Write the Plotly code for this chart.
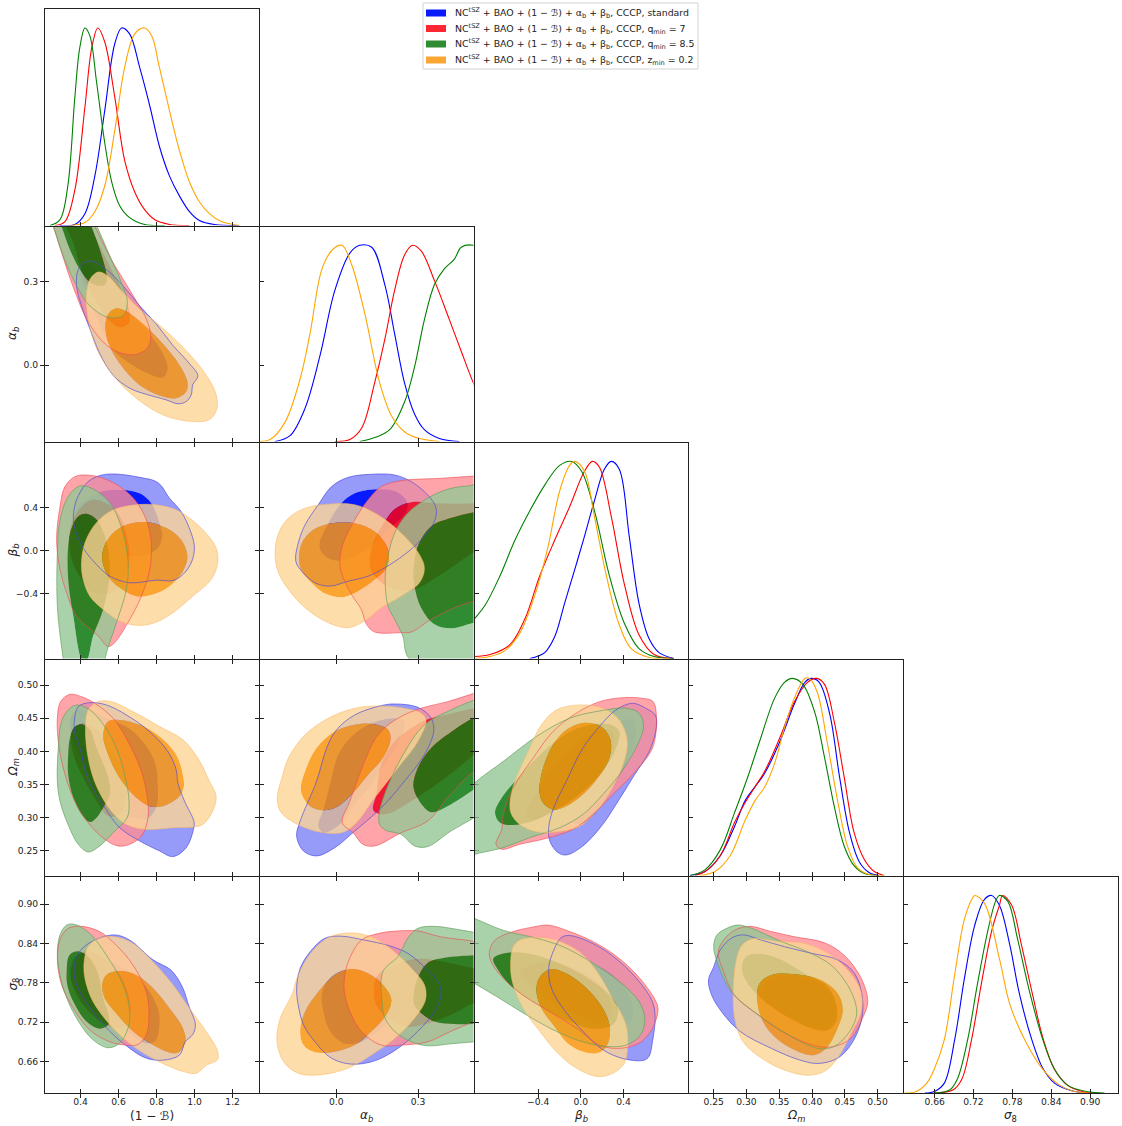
import plotly.graph_objects as go

# ---------- axis data ----------
COL_RANGES = [[0.213, 1.336], [-0.281, 0.503], [-0.995, 0.998], [0.2116, 0.538], [0.612, 0.943]]
ROW_RANGES = [None, [-0.275, 0.5], [-1.0, 1.003], [0.213, 0.5385], [0.612, 0.942]]
TICK_0 = [0.4, 0.6, 0.8, 1.0, 1.2]; TEXT_0 = ["0.4", "0.6", "0.8", "1.0", "1.2"]
TICK_1 = [0.0, 0.3]; TEXT_1 = ["0.0", "0.3"]
TICK_2 = [-0.4, 0.0, 0.4]; TEXT_2 = ["\u22120.4", "0.0", "0.4"]
TICK_3 = [0.25, 0.30, 0.35, 0.40, 0.45, 0.50]; TEXT_3 = ["0.25", "0.30", "0.35", "0.40", "0.45", "0.50"]
TICK_4 = [0.66, 0.72, 0.78, 0.84, 0.90]; TEXT_4 = ["0.66", "0.72", "0.78", "0.84", "0.90"]
X_LABELS = ["(1 \u2212 \u212c)", "<i>\u03b1<sub>b</sub></i>", "<i>\u03b2<sub>b</sub></i>", "<i>\u03a9<sub>m</sub></i>", "<i>\u03c3</i><sub>8</sub>"]
SERIES_NAMES = [
    "NC<sup>tSZ</sup> + BAO + (1 \u2212 \u212c) + \u03b1<sub>b</sub> + \u03b2<sub>b</sub>, CCCP, standard",
    "NC<sup>tSZ</sup> + BAO + (1 \u2212 \u212c) + \u03b1<sub>b</sub> + \u03b2<sub>b</sub>, CCCP, q<sub>min</sub> = 7",
    "NC<sup>tSZ</sup> + BAO + (1 \u2212 \u212c) + \u03b1<sub>b</sub> + \u03b2<sub>b</sub>, CCCP, q<sub>min</sub> = 8.5",
    "NC<sup>tSZ</sup> + BAO + (1 \u2212 \u212c) + \u03b1<sub>b</sub> + \u03b2<sub>b</sub>, CCCP, z<sub>min</sub> = 0.2",
]

# ---------- 1-D marginals ----------
D0_blue_x = [.292,.37,.423,.475,.527,.58,.616,.658,.711,.763,.815,.868,.92,.973,1.025,1.104,1.235]
D0_blue_y = [0,.005,.06,.25,.58,.92,1,.97,.8,.61,.4,.25,.15,.07,.025,.005,0]
D0_red_x = [.265,.318,.37,.423,.459,.491,.527,.58,.632,.685,.737,.789,.868,.973]
D0_red_y = [0,.02,.18,.6,.9,1,.93,.65,.33,.17,.08,.03,.005,0]
D0_green_x = [.239,.292,.333,.37,.396,.423,.449,.485,.527,.564,.606,.658,.737,.842]
D0_green_y = [0,.03,.2,.65,.9,1,.96,.72,.42,.22,.1,.04,.005,0]
D0_orange_x = [.344,.423,.475,.527,.58,.632,.685,.737,.774,.815,.868,.92,.973,1.025,1.078,1.14,1.235]
D0_orange_y = [0,.015,.07,.2,.48,.8,.97,1,.96,.8,.58,.38,.22,.12,.06,.02,0]

D1_blue_x = [-.224,-.169,-.114,-.059,-.005,.05,.086,.13,.178,.214,.25,.287,.323,.378,.451]
D1_blue_y = [0,.03,.17,.44,.77,.96,1,.99,.8,.55,.3,.14,.06,.015,0]
D1_red_x = [-.005,.05,.094,.141,.178,.214,.25,.28,.312,.36,.415,.458,.502,.56]
D1_red_y = [0,.01,.07,.3,.52,.77,.95,1,.97,.82,.62,.46,.3,.12]
D1_green_x = [.086,.141,.196,.25,.287,.323,.36,.396,.433,.458,.502,.56]
D1_green_y = [0,.02,.06,.2,.38,.62,.8,.88,.93,.99,1,.95]
D1_orange_x = [-.282,-.242,-.187,-.132,-.096,-.052,-.012,.021,.057,.105,.159,.203,.25,.305,.378]
D1_orange_y = [0,.01,.1,.32,.55,.88,.98,1,.9,.65,.3,.13,.05,.015,0]

D2_blue_x = [-.477,-.338,-.245,-.152,-.058,.034,.127,.22,.285,.36,.453,.544,.639,.732,.871]
D2_blue_y = [0,.03,.11,.28,.45,.62,.8,.96,1,.96,.62,.28,.1,.03,0]
D2_red_x = [-.998,-.849,-.663,-.524,-.384,-.245,-.105,.034,.109,.174,.285,.406,.544,.685,.871]
D2_red_y = [.01,.02,.07,.2,.42,.6,.77,.95,1,.97,.72,.38,.12,.02,0]
D2_green_x = [-1.128,-.998,-.896,-.756,-.617,-.477,-.338,-.198,-.086,.007,.127,.267,.406,.544,.685,.871]
D2_green_y = [.12,.2,.27,.42,.6,.75,.88,.98,1,.95,.75,.42,.18,.05,.01,0]
D2_orange_x = [-.998,-.849,-.71,-.57,-.431,-.31,-.198,-.105,-.058,.034,.127,.239,.36,.471,.639,.825]
D2_orange_y = [0,.01,.04,.13,.32,.56,.85,.98,1,.95,.72,.42,.17,.05,.005,0]

D3_blue_x = [.214,.237,.26,.282,.298,.313,.328,.351,.373,.389,.399,.411,.427,.442,.457,.472,.487,.502]
D3_blue_y = [0,.02,.1,.25,.38,.45,.52,.68,.87,.98,1,.98,.82,.5,.22,.07,.015,0]
D3_red_x = [.222,.237,.26,.282,.298,.313,.328,.351,.373,.393,.407,.419,.434,.449,.464,.48,.495,.51]
D3_red_y = [0,.02,.1,.27,.37,.45,.53,.7,.88,.98,1,.97,.78,.5,.22,.08,.02,0]
D3_green_x = [.214,.237,.26,.282,.302,.32,.343,.358,.37,.386,.404,.419,.434,.449,.464,.48,.502]
D3_green_y = [0,.03,.13,.32,.5,.68,.9,.98,1,.97,.83,.6,.35,.15,.05,.01,0]
D3_orange_x = [.229,.252,.275,.298,.313,.328,.343,.358,.373,.389,.396,.408,.423,.439,.454,.469,.487,.51]
D3_orange_y = [0,.02,.1,.28,.38,.45,.57,.75,.9,1,1,.93,.68,.38,.15,.04,.005,0]

D4_blue_x = [.645,.66,.675,.691,.706,.722,.737,.748,.76,.776,.791,.81,.827,.845,.873,.899]
D4_blue_y = [0,.008,.05,.27,.58,.85,.98,1,.95,.75,.5,.27,.125,.05,.01,0]
D4_red_x = [.66,.688,.702,.717,.732,.748,.76,.765,.779,.794,.811,.827,.845,.865,.891,.914]
D4_red_y = [0,.015,.07,.27,.55,.82,.95,1,.95,.75,.5,.28,.12,.04,.005,0]
D4_green_x = [.66,.683,.695,.711,.726,.742,.754,.76,.773,.788,.806,.827,.845,.865,.884,.907,.922]
D4_green_y = [0,.015,.07,.27,.55,.82,.97,1,.97,.78,.52,.27,.12,.04,.015,.002,0]
D4_orange_x = [.614,.632,.648,.66,.675,.691,.706,.719,.722,.737,.76,.776,.799,.827,.853,.873,.899]
D4_orange_y = [0,.008,.05,.125,.27,.6,.88,.99,1,.96,.68,.45,.27,.12,.04,.01,0]

# ---------- 2-D contours: alpha_b vs (1-B) ----------
A_blue_o_x = [.458,.536,.624,.711,.798,.886,.973,1.017,.99,.982,.956,.912,.851,.746,.659,.571,.501,.449,.405,.379,.388,.423]
A_blue_o_y = [.375,.345,.286,.214,.149,.071,.006,-.038,-.071,-.107,-.131,-.139,-.125,-.105,-.083,-.036,.042,.131,.214,.286,.345,.371]
A_blue_i_x = [.397,.449,.51,.571,.659,.763,.833,.859,.833,.763,.659,.571,.501,.431]
A_blue_i_y = [.333,.238,.131,.054,.006,-.033,-.045,-.012,.042,.113,.19,.262,.333,.369]
A_red_o_x = [.257,.335,.379,.431,.519,.606,.693,.755,.769,.746,.693,.624,.562,.475,.414,.222]
A_red_o_y = [.5,.333,.25,.167,.083,.045,.039,.065,.107,.167,.232,.31,.381,.5,.571,.571]
A_red_i_x = [.362,.397,.466,.545,.606,.65,.658,.624,.554,.484,.414,.309]
A_red_i_y = [.44,.357,.25,.167,.137,.149,.184,.262,.357,.452,.536,.536]
A_green_o_x = [.257,.309,.379,.449,.545,.624,.646,.615,.562,.487,.431,.213]
A_green_o_y = [.5,.393,.286,.214,.173,.179,.226,.298,.381,.5,.583,.583]
A_green_i_x = [.3,.344,.397,.449,.501,.533,.536,.501,.458,.414,.257]
A_green_i_y = [.5,.417,.345,.3,.286,.294,.327,.417,.5,.571,.571]
A_orange_o_x = [.493,.449,.431,.44,.484,.571,.693,.833,.973,1.078,1.118,1.108,1.043,.938,.816,.711,.615,.545]
A_orange_o_y = [.336,.309,.25,.167,.06,-.036,-.119,-.179,-.202,-.196,-.155,-.095,-.018,.065,.143,.202,.268,.321]
A_orange_i_x = [.589,.545,.531,.545,.606,.711,.833,.903,.956,.962,.921,.833,.728,.65]
A_orange_i_y = [.205,.184,.143,.083,.006,-.071,-.113,-.119,-.095,-.06,0,.077,.149,.19]

# ---------- beta_b vs (1-B) ----------
B_blue_o_x = [.362,.379,.431,.493,.571,.711,.807,.868,.929,.982,.999,.982,.938,.886,.798,.659,.554,.484,.414,.37]
B_blue_o_y = [.317,.471,.625,.692,.711,.68,.631,.486,.363,.163,.025,-.114,-.222,-.277,-.274,-.298,-.237,-.129,.025,.209]
B_blue_i_x = [.37,.414,.51,.624,.711,.772,.816,.83,.807,.746,.641,.519,.414,.37]
B_blue_i_y = [.363,.455,.548,.563,.532,.44,.255,.132,.025,-.037,-.052,-.022,.04,.194]
B_red_o_x = [.274,.292,.318,.37,.431,.519,.606,.685,.746,.772,.764,.72,.659,.58,.545,.493,.379,.327,.292]
B_red_o_y = [.102,.409,.594,.686,.702,.671,.594,.471,.286,.071,-.175,-.422,-.637,-.852,-.889,-.791,-.606,-.391,-.175]
B_red_i_x = [.341,.379,.466,.562,.615,.65,.655,.624,.562,.466,.405,.353]
B_red_i_y = [.163,.348,.471,.409,.286,.071,-.114,-.268,-.391,-.391,-.268,-.083]
B_green_o_x = [.278,.292,.335,.397,.475,.562,.624,.65,.641,.589,.528,.519,.318,.309,.295,.278]
B_green_o_y = [-.022,.286,.502,.6,.563,.425,.163,-.114,-.36,-.668,-1.006,-1.19,-1.19,-1.006,-.822,-.514]
B_green_i_x = [.335,.353,.388,.431,.484,.528,.55,.55,.519,.466,.431,.41,.362,.335]
B_green_i_y = [.04,.209,.317,.342,.286,.132,-.052,-.268,-.545,-.791,-1.02,-1.02,-.606,-.268]
B_orange_o_x = [.405,.423,.475,.554,.659,.798,.921,1.043,1.113,1.121,1.087,.99,.886,.781,.693,.606,.519,.449,.414]
B_orange_o_y = [-.114,.071,.24,.363,.418,.425,.363,.194,.025,-.114,-.268,-.422,-.575,-.674,-.692,-.652,-.545,-.422,-.268]
B_orange_i_x = [.514,.528,.58,.659,.746,.851,.929,.962,.938,.868,.781,.693,.606,.545]
B_orange_i_y = [-.083,.055,.178,.249,.265,.209,.102,-.052,-.191,-.329,-.406,-.422,-.345,-.237]

# ---------- beta_b vs alpha_b ----------
C_blue_o_x = [-.148,-.139,-.114,-.066,-.017,.044,.129,.214,.275,.335,.366,.36,.311,.25,.177,.117,.044,-.023,-.078,-.126]
C_blue_o_y = [-.098,.071,.24,.425,.594,.68,.708,.702,.64,.517,.394,.271,.102,-.037,-.16,-.237,-.283,-.329,-.298,-.191]
C_blue_i_x = [-.062,-.029,.019,.068,.153,.22,.262,.25,.19,.129,.056,-.005,-.047]
C_blue_i_y = [.055,.255,.44,.532,.569,.548,.44,.332,.194,.04,-.068,-.092,-.037]
C_red_o_x = [.013,.026,.068,.117,.165,.238,.384,.505,.578,.578,.505,.433,.348,.275,.238,.141,.111,.092,.056,.019]
C_red_o_y = [-.083,.071,.286,.471,.594,.649,.671,.692,.702,-.422,-.468,-.529,-.637,-.754,-.76,-.754,-.683,-.545,-.406,-.206]
C_red_i_x = [.123,.135,.171,.214,.275,.372,.505,.578,.578,.481,.384,.287,.214,.159,.129]
C_red_i_y = [-.083,.071,.24,.385,.449,.44,.44,.455,.132,-.052,-.222,-.36,-.36,-.283,-.191]
C_green_o_x = [.18,.183,.214,.262,.335,.408,.481,.578,.578,.269,.244,.214,.19]
C_green_o_y = [-.329,-.145,.163,.348,.486,.569,.6,.609,-1.252,-1.006,-.791,-.637,-.514]
C_green_i_x = [.284,.299,.348,.42,.505,.578,.578,.505,.42,.36,.311,.287]
C_green_i_y = [-.175,.04,.225,.302,.357,.378,-.637,-.668,-.72,-.683,-.529,-.329]
C_orange_o_x = [-.224,-.211,-.175,-.114,-.029,.068,.153,.238,.305,.323,.305,.238,.165,.104,.044,-.029,-.114,-.175,-.211]
C_orange_o_y = [-.037,.163,.302,.394,.431,.425,.332,.163,-.037,-.16,-.298,-.422,-.529,-.652,-.714,-.668,-.529,-.36,-.206]
C_orange_i_x = [-.136,-.126,-.084,-.017,.068,.141,.19,.187,.141,.08,.026,-.041,-.096,-.126]
C_orange_i_y = [-.083,.071,.194,.255,.255,.178,.009,-.145,-.268,-.375,-.431,-.397,-.283,-.191]

# ---------- Omega_m vs (1-B) ----------
D_blue_o_x = [.367,.388,.449,.536,.641,.763,.859,.903,.912,.947,.996,.996,.956,.886,.816,.711,.606,.528,.44,.397,.37]
D_blue_o_y = [.445,.4675,.4735,.47,.455,.43,.4,.3725,.3525,.325,.295,.285,.255,.2415,.25,.265,.285,.315,.3575,.405,.4275]
D_blue_i_x = [.344,.37,.44,.536,.641,.728,.79,.807,.798,.746,.676,.589,.501,.431,.37]
D_blue_i_y = [.445,.46,.4625,.45,.4375,.415,.385,.345,.315,.2975,.3,.305,.33,.37,.41]
D_red_o_x = [.278,.295,.344,.405,.475,.571,.659,.72,.749,.755,.72,.659,.597,.528,.44,.362,.309,.283]
D_red_o_y = [.45,.475,.486,.4825,.4725,.45,.41,.37,.335,.3,.2725,.26,.2575,.2675,.2925,.33,.375,.415]
D_red_i_x = [.353,.414,.484,.554,.624,.641,.606,.545,.484,.414,.362]
D_red_i_y = [.43,.4425,.4325,.405,.37,.335,.305,.3025,.325,.36,.395]
D_green_o_x = [.278,.283,.3,.335,.379,.449,.528,.589,.632,.655,.645,.58,.501,.44,.388,.327,.292]
D_green_o_y = [.355,.405,.445,.4625,.47,.4625,.4375,.405,.365,.325,.3,.28,.2575,.2485,.26,.295,.325]
D_green_i_x = [.335,.344,.37,.405,.449,.484,.545,.554,.528,.484,.449,.405,.362,.335]
D_green_i_y = [.395,.42,.4375,.441,.4325,.405,.36,.335,.32,.3,.2935,.305,.33,.365]
D_orange_o_x = [.426,.44,.493,.562,.676,.816,.938,1.017,1.078,1.113,1.095,1.043,.99,.886,.746,.641,.562,.484,.44]
D_orange_o_y = [.435,.4625,.475,.475,.46,.4375,.4175,.39,.355,.3325,.31,.29,.286,.285,.2825,.29,.31,.3475,.39]
D_orange_i_x = [.519,.545,.606,.711,.816,.903,.938,.942,.912,.833,.763,.685,.606,.545]
D_orange_i_y = [.425,.445,.4475,.44,.4225,.395,.365,.345,.33,.3175,.3175,.3325,.36,.395]

# ---------- Omega_m vs alpha_b ----------
E_blue_o_x = [-.145,-.132,-.072,-.035,.001,.068,.165,.214,.299,.348,.357,.323,.25,.165,.068,-.005,-.072,-.12]
E_blue_o_y = [.2725,.295,.355,.405,.4325,.455,.469,.4715,.4665,.45,.43,.395,.355,.315,.28,.255,.2425,.25]
E_blue_i_x = [-.066,-.047,-.023,.007,.056,.129,.214,.25,.226,.177,.129,.068,.007,-.047]
E_blue_i_y = [.2875,.3125,.35,.395,.4225,.4425,.45,.445,.41,.38,.35,.32,.2875,.2775]
E_red_o_x = [.022,.05,.104,.153,.226,.311,.408,.505,.578,.578,.505,.408,.335,.238,.141,.098,.062]
E_red_o_y = [.2925,.325,.385,.425,.45,.465,.475,.4875,.4975,.3825,.37,.33,.295,.2775,.2575,.26,.2775]
E_red_i_x = [.135,.147,.165,.214,.275,.329,.408,.505,.578,.578,.505,.384,.275,.19,.153]
E_red_i_y = [.3125,.335,.38,.415,.435,.4475,.456,.465,.47,.42,.395,.355,.325,.306,.306]
E_green_o_x = [.157,.177,.238,.323,.42,.505,.578,.578,.505,.42,.335,.287,.238,.183,.159]
E_green_o_y = [.305,.335,.39,.44,.4625,.4775,.49,.32,.3,.28,.2565,.2575,.275,.281,.29]
E_green_i_x = [.283,.299,.348,.433,.505,.578,.578,.505,.42,.348,.305]
E_green_i_y = [.3475,.375,.405,.4325,.451,.465,.36,.3425,.32,.3085,.325]
E_orange_o_x = [-.216,-.199,-.175,-.114,-.029,.068,.153,.25,.311,.329,.299,.226,.141,.068,.019,-.078,-.163,-.205]
E_orange_o_y = [.33,.36,.39,.425,.45,.465,.4685,.465,.4575,.4475,.415,.375,.33,.29,.2775,.28,.295,.31]
E_orange_i_x = [-.129,-.114,-.072,-.005,.068,.141,.19,.199,.171,.117,.056,.007,-.047,-.096]
E_orange_i_y = [.34,.37,.405,.43,.44,.441,.4325,.4175,.39,.365,.335,.3175,.3115,.3175]

# ---------- Omega_m vs beta_b ----------
F_blue_o_x = [-.301,-.26,-.136,.019,.174,.329,.484,.608,.695,.71,.654,.484,.329,.205,.019,-.136,-.214,-.291]
F_blue_o_y = [.285,.3125,.355,.405,.4375,.4625,.4725,.465,.455,.4425,.405,.36,.32,.29,.2575,.244,.2475,.265]
F_blue_i_x = [-.105,-.183,-.105,.05,.205,.36,.484,.515,.453,.298,.127,.003]
F_blue_i_y = [.295,.325,.36,.4,.4275,.445,.4475,.425,.39,.345,.305,.29]
F_red_o_x = [-.794,-.741,-.726,-.633,-.447,-.26,-.043,.174,.391,.577,.676,.707,.67,.484,.298,.112,-.074,-.322,-.571,-.741]
F_red_o_y = [.26,.2825,.305,.345,.39,.43,.4575,.475,.481,.48,.475,.4525,.405,.365,.335,.305,.2825,.269,.26,.2525]
F_red_i_x = [-.509,-.369,-.198,.019,.205,.298,.282,.143,-.043,-.26,-.447]
F_red_i_y = [.305,.35,.39,.42,.4325,.43,.4,.36,.33,.31,.2975]
F_green_o_x = [-1.129,-.995,-.726,-.416,-.105,.143,.422,.546,.586,.515,.36,.205,.019,-.198,-.478,-.726,-.958,-1.129]
F_green_o_y = [.33,.3525,.385,.4225,.45,.46,.465,.4575,.4375,.405,.365,.335,.305,.285,.27,.255,.2465,.24]
F_green_i_x = [-.803,-.741,-.602,-.416,-.198,.019,.267,.36,.329,.205,.019,-.198,-.447,-.633,-.757]
F_green_i_y = [.3075,.33,.3575,.39,.42,.4375,.441,.43,.405,.37,.34,.315,.295,.289,.2925]
F_orange_o_x = [-.664,-.617,-.478,-.369,-.229,-.012,.205,.36,.431,.422,.329,.174,.019,-.167,-.416,-.571,-.648]
F_orange_o_y = [.32,.355,.405,.44,.4625,.47,.465,.4475,.42,.395,.355,.315,.29,.28,.279,.29,.305]
F_orange_i_x = [-.388,-.353,-.26,-.136,.034,.189,.276,.267,.158,.019,-.136,-.26,-.353]
F_orange_i_y = [.34,.375,.41,.4325,.443,.4375,.4175,.39,.36,.335,.3175,.3125,.3225]

# ---------- sigma_8 vs (1-B) ----------
G_blue_o_x = [.365,.388,.466,.58,.659,.781,.877,.938,.968,1.004,.99,.95,.921,.833,.746,.659,.554,.44,.379]
G_blue_o_y = [.797,.825,.844,.853,.845,.815,.799,.772,.746,.716,.701,.69,.67,.662,.665,.68,.706,.746,.777]
G_blue_i_x = [.344,.37,.449,.554,.659,.746,.807,.816,.79,.728,.624,.501,.397]
G_blue_i_y = [.797,.82,.827,.812,.797,.774,.741,.716,.69,.689,.711,.731,.761]
G_red_o_x = [.278,.295,.335,.405,.501,.589,.676,.746,.76,.746,.702,.641,.554,.449,.362,.3]
G_red_o_y = [.817,.848,.863,.866,.858,.837,.807,.766,.726,.701,.686,.685,.69,.708,.741,.777]
G_red_i_x = [.348,.379,.449,.536,.615,.659,.65,.597,.519,.414,.362]
G_red_i_y = [.792,.82,.828,.815,.787,.751,.721,.711,.718,.746,.772]
G_green_o_x = [.278,.292,.327,.37,.449,.536,.624,.659,.65,.606,.545,.466,.379,.309]
G_green_o_y = [.822,.853,.868,.869,.855,.822,.777,.736,.711,.688,.681,.693,.726,.772]
G_green_i_x = [.327,.341,.388,.449,.493,.519,.55,.545,.501,.431,.362,.33]
G_green_i_y = [.797,.822,.828,.817,.792,.756,.726,.716,.71,.721,.751,.777]
G_orange_o_x = [.419,.44,.493,.58,.676,.781,.886,.973,1.06,1.118,1.121,1.06,1.008,.938,.833,.693,.571,.466,.423]
G_orange_o_y = [.812,.835,.848,.85,.84,.812,.777,.741,.706,.678,.663,.654,.642,.645,.657,.68,.711,.751,.787]
G_orange_i_x = [.514,.536,.606,.693,.781,.868,.938,.952,.921,.877,.781,.676,.58,.528]
G_orange_i_y = [.777,.792,.798,.792,.772,.741,.711,.69,.675,.673,.685,.706,.736,.756]

# ---------- sigma_8 vs alpha_b ----------
H_blue_o_x = [-.145,-.132,-.096,-.041,.019,.104,.19,.262,.335,.378,.384,.36,.299,.226,.141,.056,-.017,-.078,-.12,-.139]
H_blue_o_y = [.772,.802,.827,.848,.851,.845,.837,.825,.799,.777,.761,.736,.706,.68,.661,.656,.665,.69,.716,.746]
H_blue_i_x = [-.053,-.035,.007,.068,.129,.19,.238,.214,.153,.08,.026,-.023,-.047]
H_blue_i_y = [.761,.782,.797,.801,.794,.777,.756,.731,.706,.688,.688,.706,.736]
H_red_o_x = [.029,.044,.092,.153,.226,.299,.384,.505,.578,.578,.505,.42,.335,.238,.165,.092,.05,.032]
H_red_o_y = [.782,.812,.845,.855,.859,.859,.85,.843,.835,.731,.721,.706,.69,.685,.685,.706,.736,.761]
H_red_i_x = [.139,.153,.214,.299,.396,.505,.578,.578,.505,.42,.335,.25,.19,.147]
H_red_i_y = [.769,.792,.807,.817,.812,.802,.797,.756,.749,.731,.718,.713,.726,.746]
H_green_o_x = [.168,.171,.226,.262,.299,.36,.42,.505,.578,.578,.505,.42,.335,.275,.214,.177]
H_green_o_y = [.751,.797,.82,.848,.863,.866,.863,.857,.853,.693,.69,.687,.684,.69,.706,.728]
H_green_i_x = [.284,.299,.335,.396,.505,.578,.578,.505,.433,.36,.311,.287]
H_green_i_y = [.761,.787,.81,.818,.822,.823,.718,.717,.717,.721,.734,.746]
H_orange_o_x = [-.217,-.205,-.163,-.139,-.09,-.023,.056,.129,.214,.287,.323,.327,.287,.214,.129,.044,-.053,-.139,-.193]
H_orange_o_y = [.69,.726,.761,.792,.827,.85,.856,.85,.827,.797,.777,.754,.726,.695,.67,.65,.64,.642,.66]
H_orange_i_x = [-.132,-.114,-.066,-.005,.056,.117,.177,.202,.183,.129,.068,-.005,-.078,-.12]
H_orange_i_y = [.706,.736,.766,.792,.801,.794,.774,.754,.731,.706,.685,.675,.674,.685]

# ---------- sigma_8 vs beta_b ----------
I_blue_o_x = [-.301,-.26,-.183,-.105,.112,.329,.546,.67,.695,.67,.639,.592,.406,.205,.019,-.167,-.276]
I_blue_o_y = [.802,.827,.849,.852,.84,.817,.782,.751,.726,.69,.668,.662,.664,.678,.706,.741,.772]
I_blue_i_x = [-.167,-.105,.019,.205,.391,.484,.468,.329,.174,.019,-.105]
I_blue_i_y = [.782,.807,.812,.802,.777,.746,.721,.711,.716,.736,.756]
I_red_o_x = [-.856,-.803,-.633,-.447,-.307,-.136,.112,.36,.577,.716,.716,.654,.546,.36,.174,-.043,-.291,-.54,-.726,-.834]
I_red_o_y = [.827,.845,.858,.865,.868,.86,.843,.817,.782,.746,.731,.706,.688,.68,.685,.711,.736,.761,.787,.81]
I_red_i_x = [-.571,-.478,-.291,-.074,.143,.267,.282,.174,.019,-.167,-.416]
I_red_i_y = [.797,.807,.812,.802,.782,.754,.731,.718,.726,.741,.766]
I_green_o_x = [-1.129,-.995,-.726,-.416,-.167,.112,.36,.546,.598,.561,.422,.236,.019,-.229,-.509,-.788,-.995,-1.129]
I_green_o_y = [.886,.878,.86,.848,.835,.81,.782,.751,.726,.701,.685,.683,.69,.706,.731,.759,.779,.792]
I_green_i_x = [-.819,-.664,-.416,-.167,.112,.298,.35,.298,.112,-.105,-.353,-.648,-.772]
I_green_i_y = [.817,.826,.822,.807,.782,.756,.736,.716,.71,.721,.741,.774,.799]
I_orange_o_x = [-.657,-.633,-.571,-.416,-.229,-.012,.143,.298,.422,.437,.406,.298,.158,-.043,-.229,-.384,-.54,-.633]
I_orange_o_y = [.802,.835,.845,.849,.845,.827,.799,.756,.716,.68,.657,.642,.637,.65,.675,.706,.741,.777]
I_orange_i_x = [-.416,-.384,-.276,-.136,.05,.205,.267,.26,.189,.065,-.105,-.26,-.369]
I_orange_i_y = [.769,.789,.801,.794,.772,.741,.716,.69,.675,.673,.685,.716,.741]

# ---------- sigma_8 vs Omega_m ----------
J_blue_o_x = [.242,.25,.26,.277,.295,.323,.358,.399,.439,.465,.477,.475,.459,.439,.409,.379,.338,.29,.262,.247]
J_blue_o_y = [.784,.804,.83,.848,.853,.845,.835,.825,.815,.794,.756,.721,.685,.665,.657,.663,.68,.706,.736,.761]
J_blue_i_x = [.328,.343,.368,.404,.429,.434,.419,.389,.353]
J_blue_i_y = [.756,.782,.789,.777,.751,.726,.711,.718,.736]
J_red_o_x = [.257,.265,.282,.305,.338,.374,.419,.449,.475,.485,.477,.459,.434,.409,.363,.318,.282,.265]
J_red_o_y = [.827,.845,.86,.866,.858,.85,.841,.822,.787,.751,.726,.695,.683,.683,.701,.731,.761,.797]
J_red_i_x = [.32,.338,.374,.414,.437,.434,.419,.389,.348]
J_red_i_y = [.761,.787,.791,.777,.749,.721,.706,.713,.736]
J_green_o_x = [.25,.255,.27,.287,.308,.353,.394,.429,.454,.467,.467,.454,.434,.409,.363,.318,.277,.257]
J_green_o_y = [.835,.853,.863,.868,.863,.843,.827,.807,.777,.746,.726,.701,.683,.68,.701,.731,.766,.807]
J_green_i_x = [.293,.3,.323,.353,.389,.424,.437,.437,.424,.399,.358,.323,.3]
J_green_i_y = [.802,.82,.824,.815,.794,.774,.746,.721,.708,.711,.731,.756,.782]
J_orange_o_x = [.28,.285,.293,.31,.348,.389,.424,.457,.475,.475,.459,.439,.419,.394,.358,.323,.295,.282]
J_orange_o_y = [.772,.817,.837,.847,.843,.84,.825,.797,.766,.736,.701,.665,.645,.639,.647,.665,.69,.726]
J_orange_i_x = [.316,.32,.338,.374,.414,.439,.447,.439,.424,.404,.379,.348,.325]
J_orange_i_y = [.756,.779,.792,.793,.784,.764,.739,.711,.683,.67,.675,.693,.721]

# ---------- styles ----------
SERIES = ["blue", "red", "green", "orange"]
OUTER_FILL = {"blue": "rgba(124,130,249,0.8)", "red": "rgba(255,143,149,0.8)",
              "green": "rgba(149,199,149,0.8)", "orange": "rgba(252,212,149,0.8)"}
INNER_FILL = {"blue": "rgba(0,20,255,0.97)", "red": "rgba(255,0,15,0.85)",
              "green": "rgba(12,120,14,0.85)", "orange": "rgba(250,150,15,0.85)"}
EDGE = {"blue": "rgba(70,70,225,0.8)", "red": "rgba(240,70,80,0.75)",
        "green": "rgba(100,160,90,0.85)", "orange": "rgba(250,185,100,0.7)"}
CURVE = {"blue": "#0000ff", "red": "#ff0000", "green": "#008000", "orange": "#ffa500"}
COLS = [45, 259, 474, 688, 903, 1118]
ROWS = [9, 226, 442, 659, 876, 1093]
W, H = 1122, 1126
TICKS = [(TICK_0, TEXT_0), (TICK_1, TEXT_1), (TICK_2, TEXT_2), (TICK_3, TEXT_3), (TICK_4, TEXT_4)]
PANELS = {(1, 0): "A", (2, 0): "B", (2, 1): "C", (3, 0): "D", (3, 1): "E", (3, 2): "F",
          (4, 0): "G", (4, 1): "H", (4, 2): "I", (4, 3): "J"}
TEXT = "#222"

fig = go.Figure()
layout = {}
BASE = dict(showgrid=False, zeroline=False, showline=True, linecolor=TEXT, linewidth=1,
            tickcolor=TEXT, tickwidth=1, ticklen=4, ticks="outside",
            tickfont=dict(family="DejaVu Sans", size=9.2, color=TEXT))


def closed(v):
    return list(v) + [v[0]]


def area(x, y):
    return sum(x[i] * y[(i + 1) % len(x)] - x[(i + 1) % len(x)] * y[i] for i in range(len(x)))


def ring(xo, yo, xi, yi):
    """Outer outline plus inner outline wound the other way, so the fill is the band between them."""
    if area(xo, yo) * area(xi, yi) > 0:
        xi, yi = xi[::-1], yi[::-1]
    return closed(xo) + [None] + closed(xi), closed(yo) + [None] + closed(yi)


n = 0
for r in range(5):
    for c in range(r + 1):
        n += 1
        xn, yn = f"x{n}", f"y{n}"
        # neighbouring panels share one spine pixel
        xl = COLS[c] + (0.5 if c > 0 else 0)
        xh = COLS[c + 1] - (0.5 if c < 4 else 0)
        yt = ROWS[r] + (0.5 if r > 0 else 0)
        yb = ROWS[r + 1] - (0.5 if r < 4 else 0)
        xd = [xl / W, xh / W]
        yd = [1 - yb / H, 1 - yt / H]
        diag = r == c
        tv, tt = TICKS[c]
        layout[f"xaxis{n}"] = dict(BASE, domain=xd, anchor=yn, range=COL_RANGES[c], tickvals=tv,
                                   ticktext=tt, showticklabels=(r == 4), ticklabelstandoff=-4,
                                   mirror=True if diag else "ticks")
        if diag:
            layout[f"yaxis{n}"] = dict(BASE, domain=yd, anchor=xn, range=[0, 1.096], ticks="",
                                       showticklabels=False, mirror=True)
            for s in SERIES:
                fig.add_trace(go.Scatter(x=globals()[f"D{c}_{s}_x"], y=globals()[f"D{c}_{s}_y"],
                                         xaxis=xn, yaxis=yn, mode="lines", showlegend=False,
                                         hoverinfo="skip",
                                         line=dict(color=CURVE[s], width=1.1, shape="spline")))
        else:
            tv2, tt2 = TICKS[r]
            layout[f"yaxis{n}"] = dict(BASE, domain=yd, anchor=xn, range=ROW_RANGES[r], tickvals=tv2,
                                       ticktext=tt2, showticklabels=(c == 0), mirror="ticks")
            p = PANELS[(r, c)]
            for s in SERIES:
                xo, yo = globals()[f"{p}_{s}_o_x"], globals()[f"{p}_{s}_o_y"]
                xi, yi = globals()[f"{p}_{s}_i_x"], globals()[f"{p}_{s}_i_y"]
                bx, by = ring(xo, yo, xi, yi)
                fig.add_trace(go.Scatter(x=bx, y=by, xaxis=xn, yaxis=yn, mode="lines", fill="toself",
                                         fillcolor=OUTER_FILL[s], showlegend=False, hoverinfo="skip",
                                         line=dict(color="rgba(0,0,0,0)", width=0, shape="spline")))
                fig.add_trace(go.Scatter(x=closed(xi), y=closed(yi), xaxis=xn, yaxis=yn, mode="lines",
                                         fill="toself", fillcolor=INNER_FILL[s], showlegend=False,
                                         hoverinfo="skip",
                                         line=dict(color="rgba(0,0,0,0)", width=0, shape="spline")))
            # outlines sit on top of every fill
            for s in SERIES:
                fig.add_trace(go.Scatter(x=closed(globals()[f"{p}_{s}_o_x"]), y=closed(globals()[f"{p}_{s}_o_y"]),
                                         xaxis=xn, yaxis=yn, mode="lines", showlegend=False, hoverinfo="skip",
                                         line=dict(color=EDGE[s], width=0.8, shape="spline")))

# inward half of the ticks on the outer left and bottom edges
m = n
idx = 0
for r in range(5):
    for c in range(r + 1):
        idx += 1
        if r == 4:
            m += 1
            tv, tt = TICKS[c]
            layout[f"xaxis{m}"] = dict(overlaying=f"x{idx}", anchor=f"y{idx}", domain=layout[f"xaxis{idx}"]["domain"],
                                       range=COL_RANGES[c], tickvals=tv, ticks="inside", ticklen=4, tickwidth=1,
                                       tickcolor=TEXT, showticklabels=False, showgrid=False, zeroline=False)
            fig.add_trace(go.Scatter(x=[None], y=[None], xaxis=f"x{m}", yaxis=f"y{idx}", showlegend=False, hoverinfo="skip"))
        if c == 0 and r > 0:
            m += 1
            tv, tt = TICKS[r]
            layout[f"yaxis{m}"] = dict(overlaying=f"y{idx}", anchor=f"x{idx}", domain=layout[f"yaxis{idx}"]["domain"],
                                       range=ROW_RANGES[r], tickvals=tv, ticks="inside", ticklen=4, tickwidth=1,
                                       tickcolor=TEXT, showticklabels=False, showgrid=False, zeroline=False)
            fig.add_trace(go.Scatter(x=[None], y=[None], xaxis=f"x{idx}", yaxis=f"y{m}", showlegend=False, hoverinfo="skip"))

annotations = []
for c, lab in enumerate(X_LABELS):
    annotations.append(dict(text=lab, xref="paper", yref="paper", x=(COLS[c] + COLS[c + 1]) / 2 / W,
                            y=1 - 1116 / H, xanchor="center", yanchor="middle", showarrow=False,
                            font=dict(family="DejaVu Sans", size=12, color=TEXT)))
    if c > 0:
        annotations.append(dict(text=lab, xref="paper", yref="paper", x=13 / W,
                                y=1 - (ROWS[c] + ROWS[c + 1]) / 2 / H, xanchor="center", yanchor="middle",
                                showarrow=False, textangle=-90,
                                font=dict(family="DejaVu Sans", size=12, color=TEXT)))

# legend box
shapes = [dict(type="rect", xref="paper", yref="paper", x0=423 / W, x1=698 / W, y0=1 - 69 / H, y1=1 - 3 / H,
               fillcolor="white", line=dict(color="#d4d4d4", width=1), layer="above")]
LEG_Y = [13, 28.5, 44, 60]
for s, name, ly in zip(SERIES, SERIES_NAMES, LEG_Y):
    shapes.append(dict(type="rect", xref="paper", yref="paper", x0=426 / W, x1=446 / W,
                       y0=1 - (ly + 3.5) / H, y1=1 - (ly - 3.5) / H, fillcolor=INNER_FILL[s],
                       line=dict(width=0), layer="above"))
    annotations.append(dict(text=name, xref="paper", yref="paper", x=453 / W, y=1 - ly / H, xanchor="left",
                            yanchor="middle", showarrow=False, align="left",
                            font=dict(family="DejaVu Sans", size=9.4, color=TEXT)))

fig.update_layout(width=W, height=H, margin=dict(l=0, r=0, t=0, b=0), paper_bgcolor="white",
                  plot_bgcolor="white", annotations=annotations, shapes=shapes, hovermode=False,
                  showlegend=False, **layout)
fig.write_html("out.html", post_script="document.body.style.margin='0';", config={"displayModeBar": False})
